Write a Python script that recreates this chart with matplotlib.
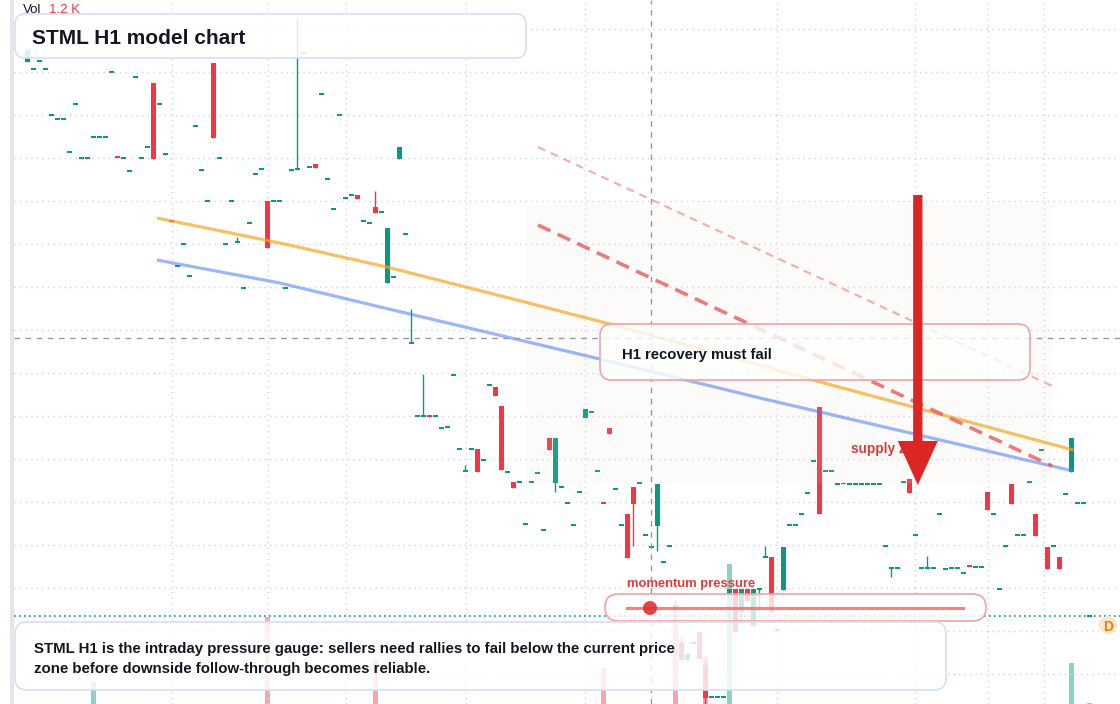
import numpy as np
import matplotlib
matplotlib.use("Agg")
import matplotlib.pyplot as plt
from matplotlib.patches import FancyBboxPatch, Rectangle, Circle, FancyArrowPatch, ArrowStyle
from matplotlib.lines import Line2D
from matplotlib.transforms import IdentityTransform

W, H = 1120, 704

# hourly candles (price units are arbitrary, one grid step = 0.43)
opens = [6.42, 6.35, 6.43, 6.35, 5.89, 5.85, 5.85, 5.52, 6.00, 5.46,
         5.46, 5.67, 5.67, 5.67, 6.32, 5.47, 5.46, 5.33, 6.27, 5.46,
         5.57, 6.21, 6.00, 5.49, 4.83, 4.38, 4.60, 4.28, 5.78, 5.34,
         5.03, 6.41, 5.46, 4.60, 5.03, 4.62, 4.16, 4.81, 5.30, 5.35,
         5.03, 5.03, 5.03, 4.16, 5.34, 5.34, 6.51, 5.37, 5.40, 6.10,
         5.25, 4.95, 5.89, 5.06, 5.09, 5.09, 4.83, 4.81, 4.97, 4.92,
         4.21, 4.27, 5.45, 4.70, 3.61, 2.88, 2.88, 2.89, 2.88, 2.76,
         2.77, 3.29, 2.55, 2.33, 2.55, 2.55, 2.44, 3.19, 3.17, 2.98,
         2.32, 2.22, 2.22, 1.80, 2.22, 2.31, 1.74, 2.66, 2.21, 2.17,
         2.01, 1.79, 2.12, 2.86, 2.92, 2.33, 2.02, 2.76, 2.15, 1.79,
         1.90, 2.17, 2.21, 1.69, 1.57, 1.78, 1.42, 1.58, 0.99, 0.61,
         0.44, 0.61, 0.72, 0.39, 0.07, 0.07, 0.07, 1.11, 1.15, 0.92,
         1.15, 0.78, 1.15, 1.47, 1.47, 0.74, 1.14, 1.79, 1.79, 1.90,
         2.11, 2.43, 2.97, 2.33, 2.33, 2.20, 2.21, 2.20, 2.20, 2.20,
         2.20, 2.20, 2.20, 1.58, 1.36, 1.36, 2.22, 2.25, 1.69, 1.36,
         1.36, 1.36, 1.90, 1.35, 1.36, 1.36, 1.31, 1.39, 1.37, 1.37,
         2.12, 1.90, 1.15, 1.58, 2.20, 1.69, 1.69, 2.22, 1.90, 2.54,
         1.57, 1.58, 1.47, 2.10, 2.32, 2.01, 2.01, 0.88]
closes = [6.54, 6.35, 6.43, 6.35, 5.89, 5.85, 5.85, 5.52, 6.00, 5.46,
          5.46, 5.67, 5.67, 5.67, 6.32, 5.46, 5.46, 5.33, 6.27, 5.46,
          5.57, 5.45, 6.00, 5.51, 4.82, 4.38, 4.60, 4.28, 5.78, 5.34,
          5.03, 5.66, 5.46, 4.60, 5.03, 4.62, 4.16, 4.81, 5.30, 5.35,
          4.56, 5.03, 5.03, 4.16, 5.34, 5.35, 6.51, 5.37, 5.36, 6.10,
          5.25, 4.95, 5.89, 5.06, 5.09, 5.05, 4.83, 4.81, 4.91, 4.92,
          4.76, 4.27, 5.57, 4.70, 3.61, 2.88, 2.88, 2.87, 2.88, 2.76,
          2.77, 3.29, 2.55, 2.33, 2.55, 2.32, 2.44, 3.19, 3.08, 2.34,
          2.32, 2.16, 2.22, 1.80, 2.22, 2.31, 1.74, 2.54, 2.66, 2.17,
          2.01, 1.79, 2.12, 2.95, 2.92, 2.33, 2.01, 2.70, 2.15, 1.79,
          1.46, 2.00, 2.21, 1.69, 1.57, 2.20, 1.42, 1.58, 0.94, 0.44,
          0.50, 0.61, 0.45, 0.06, 0.07, 0.07, 0.07, 1.15, 0.72, 1.15,
          1.03, 1.15, 1.15, 1.47, 0.92, 0.74, 1.57, 1.79, 1.79, 1.90,
          2.11, 2.43, 1.90, 2.33, 2.33, 2.20, 2.20, 2.20, 2.20, 2.20,
          2.20, 2.20, 2.20, 1.58, 1.36, 1.36, 2.22, 2.11, 1.69, 1.36,
          1.36, 1.36, 1.90, 1.35, 1.36, 1.36, 1.31, 1.38, 1.37, 1.37,
          1.94, 1.90, 1.15, 1.58, 2.00, 1.69, 1.69, 2.22, 1.68, 2.54,
          1.35, 1.58, 1.35, 2.10, 2.66, 2.01, 2.01, 0.88]
# wicks that stick out beyond the body
high_wicks = {35: 4.67, 45: 6.86, 58: 5.13, 64: 3.95, 66: 3.30, 73: 2.39,
              108: 1.04, 109: 0.67, 113: 0.47, 123: 1.58, 150: 1.48}
low_wicks = {88: 2.12, 101: 1.58, 105: 1.53, 113: 0.00, 119: 0.81,
             122: 0.93, 144: 1.27}

# volume (K) for the bars that are tall enough to see, plus the last bar
vol_k = {11: 26.0, 40: 104.0, 58: 53.0, 96: 43.0, 108: 112.0, 113: 56.0,
         117: 168.0, 174: 49.0, 177: 1.2}

# moving averages
ma_orange_i = [21.6, 42.1, 59.9, 81.6, 97.1, 130.9, 174.3]
ma_orange_p = [4.86, 4.61, 4.37, 4.04, 3.80, 3.24, 2.54]
ma_blue_i = [21.6, 42.1, 58.8, 95.4, 122.1, 174.3]
ma_blue_p = [4.44, 4.21, 3.97, 3.45, 3.06, 2.33]

# descending resistance lines
trend_i = [85.1, 170.8]
trend_upper_p = [5.57, 3.18]
trend_lower_p = [4.79, 2.38]

zone_i = [83.3, 170.8]
zone_p = [2.21, 4.99]

arrow_i = 148.4
arrow_p = [5.09, 2.19]

cross_i = 103.9
cross_p = 3.66

grid_i = [24.1, 40.1, 53.1, 73.1, 92.9, 125.0, 147.9, 160.1, 169.4]

UP = "#089981"
DN = "#f23645"
INK = "#131722"

plt.rcParams["font.family"] = ["Liberation Sans", "DejaVu Sans"]

fig = plt.figure(figsize=(W / 100, H / 100), dpi=100)
fig.patch.set_facecolor("white")

x0, step = 27.4, 6.0
xlim = (-x0 / step, (W - x0) / step)
left_i = (14 - x0) / step

ax_vol = fig.add_axes([0, 0, 1, 1])
ax_vol.set_xlim(*xlim)
ax_vol.set_ylim(0, 845)
ax_vol.axis("off")

ax = fig.add_axes([0, 0, 1, 1])
ax.set_xlim(*xlim)
ax.set_ylim(0, 7.04)
ax.axis("off")

# grid
for g in np.arange(6.747, 0.2, -0.43):
    ax.hlines(g, left_i, xlim[1], color="#d1d4dc", lw=1, linestyle=(0, (1, 3)), zorder=0)
for g in grid_i:
    ax.vlines(g, 0, 7.04, color="#d1d4dc", lw=1, linestyle=(0, (1, 3)), zorder=0)

# volume
v_idx = list(vol_k.keys())
v_col = [DN if closes[i] < opens[i] else UP for i in v_idx]
ax_vol.bar(v_idx, list(vol_k.values()), width=0.8, color=v_col, alpha=0.45, lw=0)

# candles
n = len(opens)
idx = np.arange(n)
o = np.array(opens)
c = np.array(closes)
hi = np.maximum(o, c)
lo = np.minimum(o, c)
for k, v in high_wicks.items():
    hi[k] = v
for k, v in low_wicks.items():
    lo[k] = v
cols = np.where(c < o, DN, UP)
body_lo = np.minimum(o, c)
body_h = np.abs(o - c)
flat = body_h < 0.02
body_lo = np.where(flat, (o + c) / 2 - 0.01, body_lo)
body_h = np.where(flat, 0.02, body_h)
ax.vlines(idx, lo, hi, colors=cols, lw=1, zorder=2)
ax.bar(idx, body_h, bottom=body_lo, width=0.8, color=cols, lw=0, zorder=2)

# supply zone shading
ax.add_patch(Rectangle((zone_i[0], zone_p[0]), zone_i[1] - zone_i[0], zone_p[1] - zone_p[0],
                       facecolor="#f3dccb", alpha=0.1, lw=0, zorder=3))

# moving averages and trend lines
ax.plot(ma_orange_i, ma_orange_p, color="#f5a623", alpha=0.7, lw=2.3, zorder=4,
        solid_capstyle="butt")
ax.plot(ma_blue_i, ma_blue_p, color="#4a7cf0", alpha=0.55, lw=2.3, zorder=4,
        solid_capstyle="butt")
ax.plot(trend_i, trend_upper_p, color="#ef9a9a", alpha=0.8, lw=1.5,
        dashes=(3.8, 2.9), zorder=4)
ax.plot(trend_i, trend_lower_p, color="#e35d5d", alpha=0.8, lw=2.6,
        dashes=(3.8, 2.2), zorder=4)

# crosshair and last price
ax.vlines(cross_i, 0, 7.04, color="#9598a1", lw=1, linestyle=(0, (4, 4)), zorder=5)
ax.hlines(cross_p, left_i, xlim[1], color="#9598a1", lw=1, linestyle=(0, (4, 4)), zorder=5)
ax.hlines(closes[-1], left_i, xlim[1], color=UP, lw=1.2, linestyle=(0, (1, 2)), zorder=5)


def px_box(xa, ya, xb, yb, r, ec, alpha=0.82, lw=1.2, z=1):
    p = FancyBboxPatch((xa, H - yb), xb - xa, yb - ya,
                       boxstyle=f"round,pad=0,rounding_size={r}",
                       transform=IdentityTransform(), facecolor=(1, 1, 1, alpha),
                       edgecolor=ec, lw=lw, zorder=z)
    fig.add_artist(p)


def px_text(x, y, s, **kw):
    # y is the visual middle of the text line in pixels
    fig.text(x / W, 1 - (y + 2) / H, s, va="center", ha="left", **kw)


# left strip
fig.add_artist(Rectangle((10, 0), 4, H, transform=IdentityTransform(),
                         facecolor="#e6e6e6", lw=0, zorder=1))

# title
px_box(15, 14, 526, 58, 10, "#d3e0f5", alpha=0.85)
px_text(32, 36, "STML H1 model chart", fontsize=15, fontweight="bold", color=INK, zorder=3)
px_text(23, 8, "Vol", fontsize=9.5, color=INK, zorder=3)
px_text(49, 8, "1.2 K", fontsize=9.5, color=DN, zorder=3)

# callout
px_box(600, 324, 1030, 380, 12, "#f0a3a3", alpha=0.8)
px_text(622, 353, "H1 recovery must fail", fontsize=10.7, fontweight="bold", color=INK, zorder=3)

# supply zone label + arrow
px_text(851, 447, "supply zone", fontsize=9.8, fontweight="bold", color="#e03b3b", zorder=3)
arr = FancyArrowPatch((arrow_i, arrow_p[0]), (arrow_i, arrow_p[1]),
                      arrowstyle=ArrowStyle.Simple(head_length=31.7, head_width=28.8, tail_width=6.7),
                      mutation_scale=1, facecolor="#dc2626", edgecolor="none",
                      shrinkA=0, shrinkB=0, transform=ax.transData, zorder=6)
fig.add_artist(arr)

# momentum gauge
px_text(627, 582, "momentum pressure", fontsize=9.4, fontweight="bold", color="#e03b3b", zorder=3)
px_box(605, 594, 986, 621, 13.5, "#f0a3a3", alpha=0.8)
fig.add_artist(Line2D([627, 963], [H - 608, H - 608], transform=IdentityTransform(),
                      color="#e57373", alpha=0.85, lw=2.3, zorder=3))
fig.add_artist(Circle((650, H - 608), 7, transform=IdentityTransform(),
                      facecolor="#e03131", edgecolor="none", alpha=0.9, zorder=4))

# footnote
px_box(15, 622, 946, 690, 12, "#d3e0f5", alpha=0.82)
px_text(34, 647, "STML H1 is the intraday pressure gauge: sellers need rallies to fail below the current price",
        fontsize=10.8, fontweight="bold", color=INK, zorder=3)
px_text(34, 667, "zone before downside follow-through becomes reliable.",
        fontsize=10.8, fontweight="bold", color=INK, zorder=3)

# session marker
fig.add_artist(Circle((1108, H - 625), 9, transform=IdentityTransform(),
                      facecolor="#fde7cc", edgecolor="none", zorder=3))
fig.text(1108 / W, 1 - 627 / H, "D", ha="center", va="center", fontsize=10,
         fontweight="bold", color="#f57c00", zorder=4)

fig.savefig("out.png", dpi=100)
plt.close(fig)
